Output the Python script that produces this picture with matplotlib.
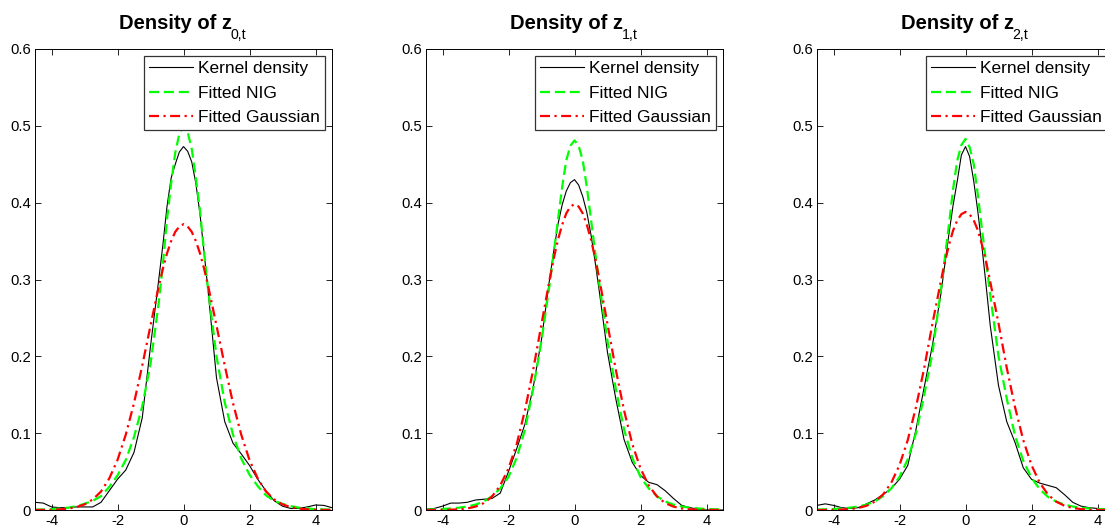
import matplotlib
matplotlib.use('Agg')
import matplotlib.pyplot as plt

plt.rcParams['font.family'] = ['Liberation Sans', 'DejaVu Sans']

# grid of x values the curves were read at (finer near the peak)
x_grid = [-4.5, -4.25, -4.0, -3.75, -3.5, -3.25, -3.0, -2.75, -2.5, -2.25,
          -2.0, -1.75, -1.5, -1.25, -1.0, -0.75, -0.625, -0.5, -0.375, -0.25, -0.125, 0.0,
          0.125, 0.25, 0.375, 0.5, 0.625, 0.75, 1.0, 1.25, 1.5, 1.75, 2.0, 2.25, 2.5,
          2.75, 3.0, 3.25, 3.5, 3.75, 4.0, 4.25, 4.5]

# z_0,t
kernel_z0 = [0.010, 0.009, 0.004, 0.003, 0.003, 0.004, 0.004, 0.004, 0.010, 0.025,
             0.040, 0.052, 0.075, 0.120, 0.213, 0.300, 0.345, 0.395, 0.432, 0.450, 0.466, 0.473,
             0.467, 0.453, 0.425, 0.385, 0.335, 0.283, 0.172, 0.115, 0.087, 0.073, 0.058, 0.040, 0.025,
             0.012, 0.005, 0.002, 0.002, 0.004, 0.0065, 0.006, 0.003]
nig_z0 = [0.0005, 0.0007, 0.001, 0.002, 0.003, 0.005, 0.008, 0.012, 0.018, 0.030,
          0.045, 0.065, 0.095, 0.135, 0.190, 0.270, 0.320, 0.378, 0.425, 0.465, 0.490, 0.500,
          0.492, 0.470, 0.432, 0.390, 0.335, 0.285, 0.200, 0.140, 0.098, 0.067, 0.046, 0.031, 0.019,
          0.012, 0.008, 0.005, 0.003, 0.002, 0.001, 0.0007, 0.0005]
gauss_z0 = [0.0001, 0.0001, 0.0003, 0.0008, 0.0018, 0.0037, 0.0073, 0.0137, 0.024, 0.041,
            0.065, 0.098, 0.139, 0.188, 0.240, 0.291, 0.314, 0.334, 0.350, 0.362, 0.369, 0.372,
            0.369, 0.362, 0.350, 0.334, 0.314, 0.291, 0.240, 0.188, 0.139, 0.098, 0.065, 0.041, 0.024,
            0.0137, 0.0073, 0.0037, 0.0018, 0.0008, 0.0003, 0.0001, 0.0001]

# z_1,t
kernel_z1 = [0.001, 0.002, 0.005, 0.009, 0.009, 0.010, 0.013, 0.014, 0.015, 0.022,
             0.050, 0.080, 0.112, 0.160, 0.222, 0.302, 0.338, 0.372, 0.397, 0.415, 0.426, 0.430,
             0.423, 0.408, 0.387, 0.358, 0.323, 0.285, 0.205, 0.145, 0.092, 0.062, 0.045, 0.036, 0.033,
             0.025, 0.015, 0.006, 0.003, 0.001, 0.0, 0.0, 0.0]
nig_z1 = [0.0006, 0.0009, 0.0013, 0.002, 0.003, 0.0045, 0.007, 0.011, 0.018, 0.028,
          0.043, 0.068, 0.105, 0.158, 0.220, 0.295, 0.336, 0.378, 0.420, 0.455, 0.474, 0.481,
          0.474, 0.455, 0.420, 0.378, 0.336, 0.295, 0.220, 0.158, 0.105, 0.068, 0.043, 0.028, 0.018,
          0.011, 0.007, 0.0045, 0.003, 0.002, 0.0013, 0.0009, 0.0006]
gauss_z1 = [0.0, 0.0001, 0.0001, 0.0004, 0.0009, 0.002, 0.0044, 0.009, 0.0175, 0.032,
            0.054, 0.086, 0.130, 0.183, 0.242, 0.301, 0.328, 0.352, 0.371, 0.386, 0.395, 0.398,
            0.395, 0.386, 0.371, 0.352, 0.328, 0.301, 0.242, 0.183, 0.130, 0.086, 0.054, 0.032, 0.0175,
            0.009, 0.0044, 0.002, 0.0009, 0.0004, 0.0001, 0.0001, 0.0]

# z_2,t
kernel_z2 = [0.006, 0.008, 0.006, 0.003, 0.002, 0.003, 0.008, 0.013, 0.020, 0.028,
             0.040, 0.058, 0.105, 0.160, 0.215, 0.280, 0.320, 0.360, 0.397, 0.428, 0.462, 0.473,
             0.460, 0.428, 0.388, 0.342, 0.292, 0.240, 0.162, 0.115, 0.088, 0.055, 0.040, 0.035, 0.032,
             0.029, 0.020, 0.010, 0.005, 0.003, 0.002, 0.001, 0.001]
nig_z2 = [0.0006, 0.0009, 0.0013, 0.002, 0.003, 0.0045, 0.007, 0.011, 0.018, 0.028,
          0.043, 0.066, 0.100, 0.150, 0.205, 0.285, 0.328, 0.372, 0.418, 0.455, 0.475, 0.483,
          0.472, 0.450, 0.410, 0.365, 0.322, 0.280, 0.200, 0.145, 0.097, 0.064, 0.042, 0.027, 0.017,
          0.011, 0.007, 0.0045, 0.003, 0.002, 0.0013, 0.0009, 0.0006]
gauss_z2 = [0.0, 0.0, 0.0002, 0.0005, 0.0012, 0.0026, 0.0055, 0.0108, 0.0201, 0.0354,
            0.0584, 0.091, 0.134, 0.185, 0.243, 0.297, 0.323, 0.345, 0.364, 0.377, 0.385, 0.388,
            0.385, 0.377, 0.364, 0.345, 0.323, 0.297, 0.243, 0.185, 0.134, 0.091, 0.0584, 0.0354, 0.0201,
            0.0108, 0.0055, 0.0026, 0.0012, 0.0005, 0.0002, 0.0, 0.0]

subscripts = ['0,t', '1,t', '2,t']
kernels = [kernel_z0, kernel_z1, kernel_z2]
nigs = [nig_z0, nig_z1, nig_z2]
gausses = [gauss_z0, gauss_z1, gauss_z2]
legend_labels = ['Kernel density', 'Fitted NIG', 'Fitted Gaussian']
x_ticks = [-4, -2, 0, 2, 4]
y_ticks = [0, 0.1, 0.2, 0.3, 0.4, 0.5, 0.6]

fig = plt.figure(figsize=(11.05, 5.29), dpi=100)
W, H = 1105.0, 529.0
lefts = [35, 426, 817]
ax_w = 297
ax_top, ax_bot = 49, 510

for i in range(3):
    ax = fig.add_axes([lefts[i] / W, (H - ax_bot) / H, ax_w / W, (ax_bot - ax_top) / H])
    ax.plot(x_grid, kernels[i], color='black', lw=0.8, label=legend_labels[0])
    ax.plot(x_grid, nigs[i], color=(0, 1, 0), lw=1.6, dashes=(4.5, 2.2),
            label=legend_labels[1])
    ax.plot(x_grid, gausses[i], color=(1, 0, 0), lw=1.6, dashes=(4.5, 2, 1, 2),
            label=legend_labels[2])
    ax.set_xlim(-4.5, 4.5)
    ax.set_ylim(0, 0.6)
    ax.set_xticks(x_ticks)
    ax.set_xticklabels([str(t) for t in x_ticks])
    ax.set_yticks(y_ticks)
    ax.set_yticklabels(['0'] + ['%.1f' % t for t in y_ticks[1:]])
    ax.tick_params(direction='in', length=4, width=0.6, top=True, right=True,
                   labelsize=10.7, pad=3, colors='black')
    for sp in ax.spines.values():
        sp.set_linewidth(0.7)
        sp.set_color('black')

    # title: bold main part, plain lowered subscript
    main = ax.annotate('Density of z', xy=(0.5, 1), xycoords='axes fraction',
                       xytext=(-5.5, 14.4), textcoords='offset points',
                       ha='center', va='baseline', fontsize=14.5, fontweight='bold')
    ax.annotate(subscripts[i], xy=(1, 0), xycoords=main,
                xytext=(-1.2, -4.5), textcoords='offset points',
                ha='left', va='baseline', fontsize=10.2)

    leg = ax.legend(loc='upper right', fontsize=12.5, frameon=True, fancybox=False,
                    framealpha=1, edgecolor='#333333', handlelength=2.5,
                    handletextpad=0.3, labelspacing=0.53, borderpad=0.3,
                    borderaxespad=0.4)
    leg.get_frame().set_linewidth(0.9)

fig.savefig('out.png', dpi=100)
